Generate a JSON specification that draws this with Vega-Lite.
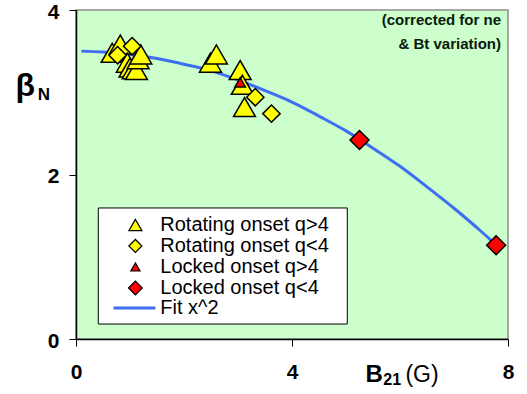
{
  "$schema": "https://vega.github.io/schema/vega-lite/v6.json",
  "width": 432,
  "height": 329,
  "autosize": "none",
  "padding": {"left": 76, "top": 10, "right": 19, "bottom": 55},
  "background": "white",
  "config": {
    "font": "Liberation Sans",
    "view": {"fill": "#CCFFCC", "stroke": "#8c8c8c", "strokeWidth": 1.5},
    "axis": {
      "grid": false,
      "domainColor": "black",
      "domainWidth": 1.5,
      "tickColor": "black",
      "tickSize": 7,
      "labelFont": "Liberation Sans",
      "labelFontWeight": "bold",
      "labelFontSize": 21,
      "labelColor": "black",
      "labelFlush": false,
      "labelOverlap": false,
      "title": null
    },
    "text": {"font": "Liberation Sans", "color": "black"}
  },
  "datasets": {
    "onsets": [
      {"b21": 0.67, "betaN": 3.48, "series": "Rotating onset q>4"},
      {"b21": 0.82, "betaN": 3.58, "series": "Rotating onset q>4"},
      {"b21": 0.95, "betaN": 3.36, "series": "Rotating onset q>4"},
      {"b21": 1.0, "betaN": 3.3, "series": "Rotating onset q>4"},
      {"b21": 1.06, "betaN": 3.28, "series": "Rotating onset q>4"},
      {"b21": 1.12, "betaN": 3.27, "series": "Rotating onset q>4"},
      {"b21": 1.15, "betaN": 3.4, "series": "Rotating onset q>4"},
      {"b21": 1.2, "betaN": 3.46, "series": "Rotating onset q>4"},
      {"b21": 2.49, "betaN": 3.36, "series": "Rotating onset q>4"},
      {"b21": 2.6, "betaN": 3.46, "series": "Rotating onset q>4"},
      {"b21": 3.04, "betaN": 3.27, "series": "Rotating onset q>4"},
      {"b21": 3.08, "betaN": 3.09, "series": "Rotating onset q>4"},
      {"b21": 3.12, "betaN": 2.82, "series": "Rotating onset q>4"},
      {"b21": 0.77, "betaN": 3.45, "series": "Rotating onset q<4"},
      {"b21": 1.04, "betaN": 3.56, "series": "Rotating onset q<4"},
      {"b21": 3.32, "betaN": 2.94, "series": "Rotating onset q<4"},
      {"b21": 3.62, "betaN": 2.74, "series": "Rotating onset q<4"},
      {"b21": 3.04, "betaN": 3.12, "series": "Locked onset q>4"},
      {"b21": 5.25, "betaN": 2.42, "series": "Locked onset q<4"},
      {"b21": 7.78, "betaN": 1.14, "series": "Locked onset q<4"}
    ],
    "fit": [
      {"b21": 0.1, "betaN": 3.5},
      {"b21": 0.5, "betaN": 3.49},
      {"b21": 1.0, "betaN": 3.46},
      {"b21": 1.5, "betaN": 3.41},
      {"b21": 2.0, "betaN": 3.34},
      {"b21": 2.5, "betaN": 3.26},
      {"b21": 3.0, "betaN": 3.15},
      {"b21": 3.5, "betaN": 3.02},
      {"b21": 4.0, "betaN": 2.88},
      {"b21": 4.5, "betaN": 2.71},
      {"b21": 5.0, "betaN": 2.53},
      {"b21": 5.5, "betaN": 2.32},
      {"b21": 6.0, "betaN": 2.1},
      {"b21": 6.5, "betaN": 1.85},
      {"b21": 7.0, "betaN": 1.59},
      {"b21": 7.5, "betaN": 1.31},
      {"b21": 7.8, "betaN": 1.13}
    ],
    "one": [{}]
  },
  "encoding": {
    "x": {
      "type": "quantitative",
      "scale": {"domain": [0, 8], "nice": false, "zero": false},
      "axis": {"values": [0, 4, 8], "labelPadding": 15}
    },
    "y": {
      "type": "quantitative",
      "scale": {"domain": [0, 4], "nice": false, "zero": false},
      "axis": {"values": [0, 2, 4], "labelPadding": 10, "labelOffset": 2}
    }
  },
  "layer": [
    {
      "data": {"name": "fit"},
      "mark": {"type": "line", "color": "#3d6ff0", "strokeWidth": 3, "interpolate": "monotone"},
      "encoding": {
        "x": {"field": "b21", "type": "quantitative"},
        "y": {"field": "betaN", "type": "quantitative"}
      }
    },
    {
      "data": {"name": "onsets"},
      "encoding": {
        "x": {"field": "b21", "type": "quantitative"},
        "y": {"field": "betaN", "type": "quantitative"}
      },
      "layer": [
        {"transform": [{"filter": "datum.series == 'Rotating onset q>4'"}], "mark": {"type": "point", "shape": "triangle-up", "filled": true, "opacity": 1, "fill": "#FFFF00", "stroke": "black", "strokeWidth": 1.5, "size": 480}},
        {"transform": [{"filter": "datum.series == 'Rotating onset q<4'"}], "mark": {"type": "point", "shape": "diamond", "filled": true, "opacity": 1, "fill": "#FFFF00", "stroke": "black", "strokeWidth": 1.5, "size": 300}},
        {"transform": [{"filter": "datum.series == 'Locked onset q>4'"}], "mark": {"type": "point", "shape": "triangle-up", "filled": true, "opacity": 1, "fill": "#FF0000", "stroke": "black", "strokeWidth": 1.5, "size": 110}},
        {"transform": [{"filter": "datum.series == 'Locked onset q<4'"}], "mark": {"type": "point", "shape": "diamond", "filled": true, "opacity": 1, "fill": "#FF0000", "stroke": "black", "strokeWidth": 1.5, "size": 360}}
      ]
    },
    {
      "data": {"name": "one"},
      "mark": {"type": "rect", "fill": "white", "stroke": "black", "strokeWidth": 1},
      "encoding": {"x": {"datum": 0.413}, "x2": {"datum": 5.024}, "y": {"datum": 1.593}, "y2": {"datum": 0.182}}
    },
    {
      "data": {"name": "one"},
      "mark": {"type": "point", "shape": "triangle-up", "filled": true, "opacity": 1, "fill": "#FFFF00", "stroke": "black", "strokeWidth": 1.2, "size": 170},
      "encoding": {"x": {"datum": 1.1}, "y": {"datum": 1.386}}
    },
    {
      "data": {"name": "one"},
      "mark": {"type": "point", "shape": "diamond", "filled": true, "opacity": 1, "fill": "#FFFF00", "stroke": "black", "strokeWidth": 1.2, "size": 170},
      "encoding": {"x": {"datum": 1.1}, "y": {"datum": 1.131}}
    },
    {
      "data": {"name": "one"},
      "mark": {"type": "point", "shape": "triangle-up", "filled": true, "opacity": 1, "fill": "#FF0000", "stroke": "black", "strokeWidth": 1.2, "size": 85},
      "encoding": {"x": {"datum": 1.1}, "y": {"datum": 0.875}}
    },
    {
      "data": {"name": "one"},
      "mark": {"type": "point", "shape": "diamond", "filled": true, "opacity": 1, "fill": "#FF0000", "stroke": "black", "strokeWidth": 1.2, "size": 190},
      "encoding": {"x": {"datum": 1.1}, "y": {"datum": 0.62}}
    },
    {
      "data": {"name": "one"},
      "mark": {"type": "rule", "color": "#3d6ff0", "strokeWidth": 3},
      "encoding": {"x": {"datum": 0.693}, "x2": {"datum": 1.47}, "y": {"datum": 0.377}}
    },
    {
      "data": {"name": "one"},
      "mark": {"type": "text", "text": "Rotating onset q>4", "fontSize": 20, "align": "left", "baseline": "middle"},
      "encoding": {"x": {"datum": 1.561}, "y": {"datum": 1.386}}
    },
    {
      "data": {"name": "one"},
      "mark": {"type": "text", "text": "Rotating onset q<4", "fontSize": 20, "align": "left", "baseline": "middle"},
      "encoding": {"x": {"datum": 1.561}, "y": {"datum": 1.131}}
    },
    {
      "data": {"name": "one"},
      "mark": {"type": "text", "text": "Locked onset q>4", "fontSize": 20, "align": "left", "baseline": "middle"},
      "encoding": {"x": {"datum": 1.561}, "y": {"datum": 0.875}}
    },
    {
      "data": {"name": "one"},
      "mark": {"type": "text", "text": "Locked onset q<4", "fontSize": 20, "align": "left", "baseline": "middle"},
      "encoding": {"x": {"datum": 1.561}, "y": {"datum": 0.62}}
    },
    {
      "data": {"name": "one"},
      "mark": {"type": "text", "text": "Fit x^2", "fontSize": 20, "align": "left", "baseline": "middle"},
      "encoding": {"x": {"datum": 1.561}, "y": {"datum": 0.377}}
    },
    {
      "data": {"name": "one"},
      "mark": {"type": "text", "text": "β", "fontSize": 32, "fontWeight": "bold", "align": "left", "baseline": "alphabetic"},
      "encoding": {"x": {"datum": -1.12}, "y": {"datum": 2.95}}
    },
    {
      "data": {"name": "one"},
      "mark": {"type": "text", "text": "N", "fontSize": 17, "fontWeight": "bold", "align": "left", "baseline": "alphabetic"},
      "encoding": {"x": {"datum": -0.71}, "y": {"datum": 2.9}}
    },
    {
      "data": {"name": "one"},
      "mark": {"type": "text", "text": "B", "fontSize": 24, "fontWeight": "bold", "align": "left", "baseline": "alphabetic"},
      "encoding": {"x": {"datum": 5.36}, "y": {"datum": -0.52}}
    },
    {
      "data": {"name": "one"},
      "mark": {"type": "text", "text": "21", "fontSize": 16, "fontWeight": "bold", "align": "left", "baseline": "alphabetic"},
      "encoding": {"x": {"datum": 5.69}, "y": {"datum": -0.56}}
    },
    {
      "data": {"name": "one"},
      "mark": {"type": "text", "text": "(G)", "fontSize": 23, "align": "left", "baseline": "alphabetic"},
      "encoding": {"x": {"datum": 6.1}, "y": {"datum": -0.52}}
    },
    {
      "data": {"name": "one"},
      "mark": {"type": "text", "text": "(corrected for ne", "fontSize": 15, "fontWeight": "bold", "align": "right", "baseline": "alphabetic", "color": "#0a1a0a"},
      "encoding": {"x": {"datum": 7.87}, "y": {"datum": 3.82}}
    },
    {
      "data": {"name": "one"},
      "mark": {"type": "text", "text": "& Bt variation)", "fontSize": 15, "fontWeight": "bold", "align": "right", "baseline": "alphabetic", "color": "#0a1a0a"},
      "encoding": {"x": {"datum": 7.87}, "y": {"datum": 3.53}}
    }
  ]
}
